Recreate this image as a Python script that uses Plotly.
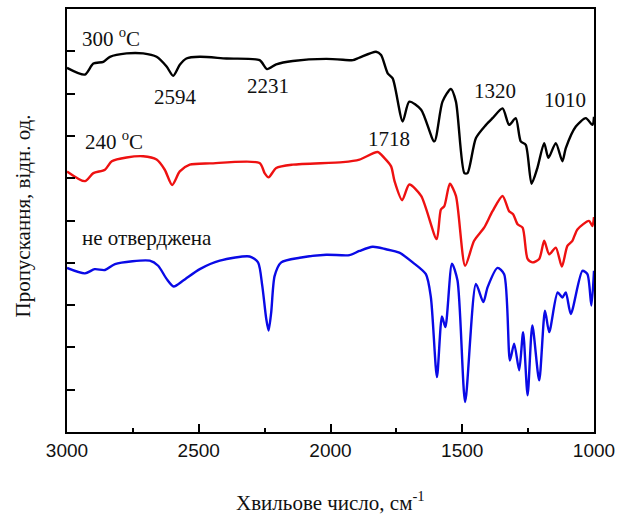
import plotly.graph_objects as go

# wavenumbers (cm^-1) and transmittance (arb. units, 0-100 axis)
wn_300 = [3000, 2932, 2900, 2862, 2837, 2774, 2711, 2660, 2622, 2597, 2572, 2547, 2496, 2395,
          2269, 2241, 2206, 2143, 2016, 1928, 1915, 1890, 1827, 1808, 1783, 1764, 1726, 1701,
          1656, 1606, 1575, 1543, 1524, 1492, 1480, 1448, 1410, 1385, 1347, 1322, 1297, 1278,
          1259, 1237, 1215, 1189, 1173, 1145, 1120, 1107, 1069, 1031, 1006, 1000]
t_300 = [86.1, 84.5, 87.1, 87.5, 88.7, 89.5, 89.5, 88.7, 86.4, 84.2, 86.8, 88.3, 88.7, 88.3,
         87.9, 85.8, 86.9, 87.7, 88.2, 87.9, 87.9, 88.5, 89.9, 89.1, 84.8, 83.6, 73.4, 78.1,
         76.2, 68.7, 78.1, 81.1, 78.1, 61.2, 61.2, 69.5, 72.6, 74.2, 76.5, 72.6, 74.2, 68.7,
         67.9, 58.7, 62.4, 68.3, 64.8, 68.3, 64.0, 67.1, 72.2, 74.2, 72.6, 74.5]

wn_240 = [3000, 2932, 2900, 2856, 2830, 2774, 2711, 2660, 2629, 2601, 2572, 2534, 2458, 2269,
          2250, 2235, 2206, 2143, 1953, 1890, 1821, 1796, 1770, 1757, 1728, 1701, 1656, 1597,
          1581, 1568, 1547, 1524, 1489, 1455, 1417, 1385, 1347, 1322, 1307, 1290, 1271, 1252,
          1234, 1208, 1189, 1170, 1145, 1122, 1101, 1082, 1063, 1019, 1006, 1000]
t_240 = [61.6, 59.3, 61.2, 62.0, 64.0, 64.9, 65.2, 64.4, 62.0, 58.4, 61.6, 63.2, 63.5, 63.6,
         61.2, 60.2, 62.4, 63.2, 63.8, 64.4, 66.2, 64.8, 62.8, 59.3, 54.8, 58.5, 55.8, 45.6,
         52.6, 53.4, 58.7, 55.8, 39.3, 45.2, 48.3, 52.2, 55.8, 52.2, 51.5, 49.1, 48.3, 40.9,
         40.1, 40.9, 45.2, 42.0, 43.6, 39.1, 44.0, 45.2, 47.9, 49.9, 48.7, 50.8]

wn_raw = [3000, 2932, 2895, 2856, 2818, 2686, 2654, 2622, 2595, 2559, 2496, 2420, 2307, 2275,
          2259, 2244, 2235, 2225, 2212, 2187, 2117, 2016, 1928, 1890, 1840, 1789, 1739, 1688,
          1638, 1619, 1596, 1577, 1564, 1539, 1518, 1489, 1448, 1420, 1404, 1366, 1341, 1319,
          1303, 1284, 1269, 1252, 1234, 1208, 1186, 1170, 1138, 1120, 1107, 1088, 1044, 1025,
          1010, 1000]
t_raw = [38.8, 37.5, 38.5, 38.3, 39.7, 40.5, 39.3, 36.2, 34.4, 35.8, 38.5, 40.5, 41.5, 40.1,
         34.6, 26.8, 24.0, 28.3, 36.9, 40.1, 41.2, 41.9, 41.8, 42.8, 43.8, 43.2, 42.4, 40.1,
         37.3, 31.8, 13.0, 27.3, 24.8, 39.8, 35.8, 7.1, 35.0, 30.7, 34.2, 38.8, 37.3, 16.9,
         20.9, 14.6, 23.6, 8.7, 25.2, 12.2, 28.7, 23.6, 33.0, 31.8, 33.0, 27.9, 38.1, 37.3,
         29.9, 38.1]

x_ticks = [3000, 2500, 2000, 1500, 1000]

serif = "Liberation Serif"
sans = "Liberation Sans"

fig = go.Figure()
for wn, t, col in [(wn_300, t_300, "#000000"), (wn_240, t_240, "#ee1111"), (wn_raw, t_raw, "#0a0ae6")]:
    fig.add_trace(go.Scatter(x=wn, y=t, mode="lines",
                             line=dict(color=col, width=2.4, shape="spline", smoothing=0.7),
                             showlegend=False, hoverinfo="skip"))

labels = [
    (2951, 93.2, "300 <sup>o</sup>C", "left"),
    (2587, 79.3, "2594", "center"),
    (2239, 81.9, "2231", "center"),
    (2939, 68.9, "240 <sup>o</sup>C", "left"),
    (2951, 45.9, "не отверджена", "left"),
    (1777, 69.2, "1718", "center"),
    (1375, 80.5, "1320", "center"),
    (1110, 78.4, "1010", "center"),
]
for x, y, txt, anc in labels:
    fig.add_annotation(x=x, y=y, xref="x", yref="y", text=txt, showarrow=False,
                       xanchor=anc, yanchor="middle",
                       font=dict(family=serif, size=21, color="#111"))

fig.add_annotation(x=-0.083, y=0.51, xref="paper", yref="paper", text="Пропускання, відн. од.",
                   textangle=-90, showarrow=False, xanchor="center", yanchor="middle",
                   font=dict(family=serif, size=21, color="#111"))
fig.add_annotation(x=0.5, y=-0.165, xref="paper", yref="paper", text="Хвильове число, см<sup>-1</sup>",
                   showarrow=False, xanchor="center", yanchor="middle",
                   font=dict(family=serif, size=21, color="#111"))

fig.update_xaxes(range=[3000, 1000], tickvals=x_ticks, ticktext=[str(v) for v in x_ticks],
                 ticks="inside", ticklen=8, tickwidth=1.5, tickcolor="#000",
                 minor=dict(dtick=250, ticks="inside", ticklen=4, tickwidth=1.5, tickcolor="#000"),
                 showline=True, linecolor="#000", linewidth=2, mirror=True,
                 showgrid=False, zeroline=False,
                 tickfont=dict(family=sans, size=19, color="#111"))
fig.update_yaxes(range=[0, 100], dtick=10, tick0=0, showticklabels=False,
                 ticks="inside", ticklen=8, tickwidth=1.5, tickcolor="#000",
                 showline=True, linecolor="#000", linewidth=2, mirror=True,
                 showgrid=False, zeroline=False)

fig.update_layout(width=622, height=515, margin=dict(l=67, r=27, t=7, b=83),
                  plot_bgcolor="white", paper_bgcolor="white")

fig.write_html("out.html", config={"displayModeBar": False},
               post_script="document.body.style.margin='0';document.body.style.padding='0';")
